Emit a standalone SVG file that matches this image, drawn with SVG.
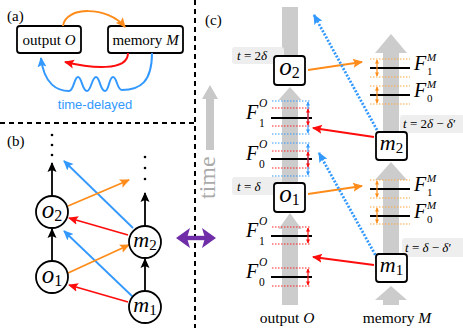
<svg xmlns="http://www.w3.org/2000/svg" width="463" height="328" viewBox="0 0 463 328" font-family="Liberation Serif, Times New Roman, serif">
<style>
.it{font-style:italic}
.box{fill:#fff;stroke:#000;stroke-width:1.8}
.nc{fill:#fff;stroke:#000;stroke-width:1.8}
.col{fill:#cccccc}
.tbg{fill:#eeeeee}
.lv{stroke:#000;stroke-width:1.8}
.dr{stroke:#ff2020;stroke-width:1;stroke-dasharray:1.5 1.5}
.db{stroke:#3399ff;stroke-width:1;stroke-dasharray:1.5 1.5}
.do{stroke:#ffa640;stroke-width:1;stroke-dasharray:1.5 1.5}
.ar{stroke:#ff0d0d;stroke-width:1.2;marker-start:url(#sr);marker-end:url(#sr)}
.ab{stroke:#3399ff;stroke-width:1.2;marker-start:url(#sb);marker-end:url(#sb)}
.ao{stroke:#ff8c1a;stroke-width:1.2;marker-start:url(#so);marker-end:url(#so)}
.F{font-size:20px;font-style:italic}
.fs{font-size:11.5px}
.fm{font-size:11px}
</style>
<defs>
<marker id="hk" viewBox="0 0 10 10" refX="9" refY="5" markerWidth="10" markerHeight="10" markerUnits="userSpaceOnUse" orient="auto"><path d="M0,0.5 L10,5 L0,9.5 L2,5z" fill="#000"/></marker>
<marker id="hr" viewBox="0 0 10 10" refX="9" refY="5" markerWidth="10" markerHeight="10" markerUnits="userSpaceOnUse" orient="auto"><path d="M0,0.5 L10,5 L0,9.5 L2,5z" fill="#ff0d0d"/></marker>
<marker id="hb" viewBox="0 0 10 10" refX="9" refY="5" markerWidth="10" markerHeight="10" markerUnits="userSpaceOnUse" orient="auto"><path d="M0,0.5 L10,5 L0,9.5 L2,5z" fill="#3399ff"/></marker>
<marker id="ho" viewBox="0 0 10 10" refX="9" refY="5" markerWidth="10" markerHeight="10" markerUnits="userSpaceOnUse" orient="auto"><path d="M0,0.5 L10,5 L0,9.5 L2,5z" fill="#ff8c1a"/></marker>
<marker id="sr" viewBox="0 0 10 10" refX="9" refY="5" markerWidth="4" markerHeight="4" markerUnits="userSpaceOnUse" orient="auto-start-reverse"><path d="M0,0 L10,5 L0,10z" fill="#ff0d0d"/></marker>
<marker id="sb" viewBox="0 0 10 10" refX="9" refY="5" markerWidth="4" markerHeight="4" markerUnits="userSpaceOnUse" orient="auto-start-reverse"><path d="M0,0 L10,5 L0,10z" fill="#3399ff"/></marker>
<marker id="so" viewBox="0 0 10 10" refX="9" refY="5" markerWidth="4" markerHeight="4" markerUnits="userSpaceOnUse" orient="auto-start-reverse"><path d="M0,0 L10,5 L0,10z" fill="#ff8c1a"/></marker>
</defs>

<!-- dividers -->
<g id="dividers" stroke="#000" stroke-width="2" stroke-dasharray="5 4" fill="none">
<line x1="0" y1="123" x2="195" y2="123"/>
<line x1="195" y1="0" x2="195" y2="328"/>
</g>

<!-- panel labels -->
<text x="7" y="21" font-size="15">(a)</text>
<text x="7" y="146" font-size="15">(b)</text>
<text x="205" y="25" font-size="15">(c)</text>

<!-- ===== Panel (a) ===== -->
<g id="a-output">
<rect class="box" x="17" y="26" width="64" height="27" rx="3"/>
<text x="49" y="44.5" font-size="15" text-anchor="middle">output <tspan class="it">O</tspan></text>
</g>
<g id="a-memory">
<rect class="box" x="108" y="26" width="75" height="27" rx="3"/>
<text x="145.5" y="44.5" font-size="15" text-anchor="middle">memory <tspan class="it">M</tspan></text>
</g>
<g id="a-connectors" fill="none" stroke-width="2">
<path d="M63,26 C65,6 108,6 125,27" stroke="#ff8c1a" marker-end="url(#ho)"/>
<path d="M128,53 C128,72 90,68 65,62" stroke="#ff0d0d" marker-end="url(#hr)"/>
<path d="M152,53 C152,82 140,90 122,90 C117,90 117,77 113,77 C109,77 109,91 105,91 C100,91 100,77 96,77 C92,77 91,91 87,91 C82,91 82,77 78,77 C74,77 74,91 69,91 C58,91 44,85 41,58" stroke="#3399ff" marker-end="url(#hb)"/>
</g>
<text x="95" y="109" font-family="Liberation Sans, Arial, sans-serif" font-size="13" fill="#3399ff" text-anchor="middle">time-delayed</text>

<!-- ===== Panel (b) ===== -->
<g id="b-dots" fill="#000">
<circle cx="52" cy="135" r="1.3"/><circle cx="52" cy="145" r="1.3"/><circle cx="52" cy="155" r="1.3"/>
<circle cx="145" cy="157" r="1.3"/><circle cx="145" cy="168" r="1.3"/><circle cx="145" cy="179" r="1.3"/>
</g>
<g id="b-connectors" fill="none" stroke-width="1.8">
<line x1="52" y1="196" x2="52" y2="163" stroke="#000" marker-end="url(#hk)"/>
<line x1="52" y1="261" x2="52" y2="229" stroke="#000" marker-end="url(#hk)"/>
<line x1="145" y1="291" x2="145" y2="259" stroke="#000" marker-end="url(#hk)"/>
<line x1="145" y1="226" x2="145" y2="193" stroke="#000" marker-end="url(#hk)"/>
<line x1="128" y1="235" x2="69" y2="218" stroke="#ff0d0d" marker-end="url(#hr)"/>
<line x1="128" y1="302" x2="69" y2="285" stroke="#ff0d0d" marker-end="url(#hr)"/>
<line x1="133" y1="228" x2="64" y2="161" stroke="#3399ff" marker-end="url(#hb)"/>
<line x1="133" y1="297" x2="64" y2="231" stroke="#3399ff" marker-end="url(#hb)"/>
<line x1="68" y1="273" x2="129" y2="245" stroke="#ff8c1a" marker-end="url(#ho)"/>
<line x1="68" y1="206" x2="129" y2="180" stroke="#ff8c1a" marker-end="url(#ho)"/>
</g>
<g id="b-o2"><circle class="nc" cx="52" cy="212" r="16"/><text x="52" y="218" font-size="25" text-anchor="middle"><tspan class="it">o</tspan><tspan font-size="16" dy="3">2</tspan></text></g>
<g id="b-o1"><circle class="nc" cx="52" cy="277" r="16"/><text x="52" y="283" font-size="25" text-anchor="middle"><tspan class="it">o</tspan><tspan font-size="16" dy="3">1</tspan></text></g>
<g id="b-m2"><circle class="nc" cx="145" cy="242" r="16"/><text x="145" y="247" font-size="22" text-anchor="middle"><tspan class="it">m</tspan><tspan font-size="15" dy="3">2</tspan></text></g>
<g id="b-m1"><circle class="nc" cx="145" cy="307" r="16"/><text x="145" y="312" font-size="22" text-anchor="middle"><tspan class="it">m</tspan><tspan font-size="15" dy="3">1</tspan></text></g>

<!-- purple double arrow -->
<g id="equiv" fill="#6f2da8">
<rect x="186" y="235.8" width="20" height="4.4"/>
<path d="M176,238 L190,228 L187,238 L190,248z"/>
<path d="M216,238 L202,228 L205,238 L202,248z"/>
</g>

<!-- time arrow -->
<g id="time">
<path d="M206,150 L206,99 L202,99 L210,85 L218,99 L214,99 L214,150z" fill="#c8c8c8"/>
<text transform="translate(215,199) rotate(-90)" font-size="24" fill="#aaaaaa">time</text>
</g>

<!-- ===== Panel (c) ===== -->
<g id="columns">
<rect class="col" x="282" y="7" width="16" height="50"/>
<path class="col" d="M282,183 L282,100 L278.5,100 L290,87 L301.5,100 L298,100 L298,183z"/>
<path class="col" d="M282,305 L282,229 L278.5,229 L290,213 L301.5,229 L298,229 L298,305z"/>
<path class="col" d="M383,132 L383,53 L375,53 L391,34 L407,53 L399,53 L399,132z"/>
<path class="col" d="M383,253 L383,180 L375,180 L391,162 L407,180 L399,180 L399,253z"/>
<path class="col" d="M383,305 L383,300 L375,300 L391,286 L407,300 L399,300 L399,305z"/>
</g>

<g id="time-labels" font-size="13">
<rect class="tbg" x="232" y="47" width="52" height="17" rx="3"/>
<text x="237" y="60"><tspan class="it">t</tspan> = 2<tspan class="it">δ</tspan></text>
<rect class="tbg" x="232" y="177" width="50" height="18" rx="3"/>
<text x="237" y="191"><tspan class="it">t</tspan> = <tspan class="it">δ</tspan></text>
<rect class="tbg" x="400" y="115" width="70" height="18" rx="3"/>
<text x="403" y="128"><tspan class="it">t</tspan> = 2<tspan class="it">δ</tspan> − <tspan class="it">δ</tspan>′</text>
<rect class="tbg" x="402" y="238" width="68" height="19" rx="3"/>
<text x="405" y="252"><tspan class="it">t</tspan> = <tspan class="it">δ</tspan> − <tspan class="it">δ</tspan>′</text>
</g>

<!-- output levels -->
<g id="levels-output">
<line class="db" x1="272" y1="101" x2="311" y2="101"/>
<line class="dr" x1="272" y1="108" x2="311" y2="108"/>
<line class="dr" x1="272" y1="126" x2="311" y2="126"/>
<line class="db" x1="272" y1="134" x2="311" y2="134"/>
<line class="lv" x1="271" y1="118" x2="312" y2="118"/>
<line class="ab" x1="308" y1="102" x2="308" y2="133"/>
<line class="ar" x1="308" y1="109" x2="308" y2="125"/>

<line class="db" x1="272" y1="143" x2="311" y2="143"/>
<line class="dr" x1="272" y1="151" x2="311" y2="151"/>
<line class="dr" x1="272" y1="168" x2="311" y2="168"/>
<line class="db" x1="272" y1="176" x2="311" y2="176"/>
<line class="lv" x1="271" y1="159" x2="312" y2="159"/>
<line class="ab" x1="308" y1="144" x2="308" y2="175"/>
<line class="ar" x1="308" y1="152" x2="308" y2="167"/>

<line class="dr" x1="272" y1="227" x2="311" y2="227"/>
<line class="dr" x1="272" y1="244" x2="311" y2="244"/>
<line class="lv" x1="271" y1="236" x2="312" y2="236"/>
<line class="ar" x1="308" y1="228" x2="308" y2="243"/>

<line class="dr" x1="272" y1="268" x2="311" y2="268"/>
<line class="dr" x1="272" y1="286" x2="311" y2="286"/>
<line class="lv" x1="271" y1="277" x2="312" y2="277"/>
<line class="ar" x1="308" y1="269" x2="308" y2="285"/>

<text class="F" x="246" y="119">F</text><text class="fs it" x="259" y="107">O</text><text class="fs" x="259" y="127">1</text>
<text class="F" x="246" y="160">F</text><text class="fs it" x="259" y="148">O</text><text class="fs" x="259" y="168">0</text>
<text class="F" x="246" y="237">F</text><text class="fs it" x="259" y="225">O</text><text class="fs" x="259" y="245">1</text>
<text class="F" x="246" y="278">F</text><text class="fs it" x="259" y="266">O</text><text class="fs" x="259" y="286">0</text>
</g>

<!-- memory levels -->
<g id="levels-memory">
<line class="do" x1="370" y1="59" x2="410" y2="59"/>
<line class="do" x1="370" y1="77" x2="410" y2="77"/>
<line class="lv" x1="370" y1="68" x2="410" y2="68"/>
<line class="ao" x1="377" y1="60" x2="377" y2="76"/>
<line class="do" x1="370" y1="86" x2="410" y2="86"/>
<line class="do" x1="370" y1="104" x2="410" y2="104"/>
<line class="lv" x1="370" y1="95" x2="410" y2="95"/>
<line class="ao" x1="377" y1="87" x2="377" y2="103"/>

<line class="do" x1="370" y1="180" x2="410" y2="180"/>
<line class="do" x1="370" y1="198" x2="410" y2="198"/>
<line class="lv" x1="370" y1="189" x2="410" y2="189"/>
<line class="ao" x1="377" y1="181" x2="377" y2="197"/>
<line class="do" x1="370" y1="207" x2="410" y2="207"/>
<line class="do" x1="370" y1="224" x2="410" y2="224"/>
<line class="lv" x1="370" y1="216" x2="410" y2="216"/>
<line class="ao" x1="377" y1="208" x2="377" y2="223"/>

<text class="F" x="414" y="70">F</text><text class="fm it" x="427" y="61">M</text><text class="fm" x="427" y="75">1</text>
<text class="F" x="414" y="97">F</text><text class="fm it" x="427" y="88">M</text><text class="fm" x="427" y="102">0</text>
<text class="F" x="414" y="191">F</text><text class="fm it" x="427" y="182">M</text><text class="fm" x="427" y="196">1</text>
<text class="F" x="414" y="218">F</text><text class="fm it" x="427" y="209">M</text><text class="fm" x="427" y="223">0</text>
</g>

<g id="c-connectors" fill="none">
<line x1="308" y1="70" x2="362" y2="62" stroke="#ff8c1a" stroke-width="2" marker-end="url(#ho)"/>
<line x1="308" y1="194" x2="362" y2="186" stroke="#ff8c1a" stroke-width="2" marker-end="url(#ho)"/>
<line x1="374" y1="137" x2="313" y2="128" stroke="#ff0d0d" stroke-width="2" marker-end="url(#hr)"/>
<line x1="374" y1="265" x2="313" y2="257" stroke="#ff0d0d" stroke-width="2" marker-end="url(#hr)"/>
<line x1="377" y1="130" x2="314" y2="15" stroke="#3399ff" stroke-width="2.8" stroke-dasharray="2 1.6" marker-end="url(#hb)"/>
<line x1="377" y1="258" x2="319" y2="153" stroke="#3399ff" stroke-width="2.8" stroke-dasharray="2 1.6" marker-end="url(#hb)"/>
</g>

<g id="c-o2"><rect class="box" x="274" y="56" width="31" height="29" rx="3"/><text x="289.5" y="75" font-size="25" text-anchor="middle"><tspan class="it">o</tspan><tspan font-size="16" dy="3">2</tspan></text></g>
<g id="c-o1"><rect class="box" x="274" y="183" width="31" height="29" rx="3"/><text x="289.5" y="202" font-size="25" text-anchor="middle"><tspan class="it">o</tspan><tspan font-size="16" dy="3">1</tspan></text></g>
<g id="c-m2"><rect class="box" x="376" y="132" width="31" height="28" rx="3"/><text x="391.5" y="150" font-size="22" text-anchor="middle"><tspan class="it">m</tspan><tspan font-size="15" dy="3">2</tspan></text></g>
<g id="c-m1"><rect class="box" x="376" y="254" width="31" height="28" rx="3"/><text x="391.5" y="272" font-size="22" text-anchor="middle"><tspan class="it">m</tspan><tspan font-size="15" dy="3">1</tspan></text></g>

<text x="287" y="323" font-size="15.5" text-anchor="middle">output <tspan class="it">O</tspan></text>
<text x="397" y="323" font-size="15.5" text-anchor="middle">memory <tspan class="it">M</tspan></text>
</svg>
